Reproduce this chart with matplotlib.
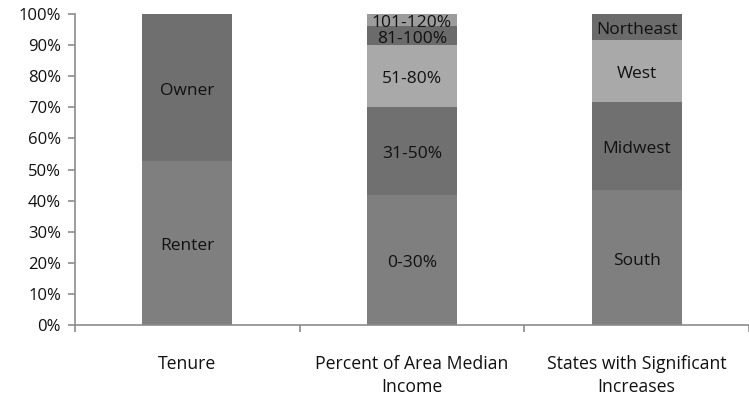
import numpy as np
import matplotlib
matplotlib.use("Agg")
from matplotlib import pyplot as plt

plt.rcParams['font.family'] = ['Open Sans', 'DejaVu Sans']

categories = ["Tenure", "Percent of Area Median\nIncome", "States with Significant\nIncreases"]

# segments per bar, bottom to top (percent)
tenure_labels = ["Renter", "Owner"]
tenure_values = [52.7, 47.3]
ami_labels = ["0-30%", "31-50%", "51-80%", "81-100%", "101-120%"]
ami_values = [41.8, 28.2, 20.0, 6.0, 4.0]
region_labels = ["South", "Midwest", "West", "Northeast"]
region_values = [43.4, 28.3, 19.9, 8.4]

tenure_colors = ["#7f7f7f", "#6f6f6f"]
ami_colors = ["#7f7f7f", "#707070", "#a9a9a9", "#6b6b6b", "#9c9c9c"]
region_colors = ["#7f7f7f", "#707070", "#a9a9a9", "#6b6b6b"]

stacks = [
    (tenure_labels, tenure_values, tenure_colors),
    (ami_labels, ami_values, ami_colors),
    (region_labels, region_values, region_colors),
]

fig = plt.figure(figsize=(7.49, 3.97), dpi=100)
ax = fig.add_axes([0.1, 0.181, 0.9, 0.784])

for i, (labels, values, colors) in enumerate(stacks):
    bottom = 0
    for lab, val, col in zip(labels, values, colors):
        ax.bar(i, val, width=0.4, bottom=bottom, color=col, edgecolor="none")
        ax.annotate(lab, (i, bottom + val / 2), xytext=(0, -3),
                    textcoords="offset pixels", ha="center", va="center",
                    fontsize=12.5, color="#111111")
        bottom += val

ax.set_xlim(-0.5, 2.5)
ax.set_ylim(0, 100)
ax.set_yticks(np.arange(0, 101, 10))
ax.set_yticklabels([f"{v}%" for v in range(0, 101, 10)], fontsize=12)

ax.set_xticks([-0.5, 0.5, 1.5, 2.5])
ax.set_xticklabels([])
for i, c in enumerate(categories):
    ax.text(i, -9.5, c, ha="center", va="top", fontsize=12.7, color="#111111",
            transform=ax.transData, linespacing=1.35)

for s in ["top", "right"]:
    ax.spines[s].set_visible(False)
for s in ["left", "bottom"]:
    ax.spines[s].set_color("#8c8c8c")
    ax.spines[s].set_linewidth(1.2)
ax.tick_params(axis="both", direction="out", length=5, color="#8c8c8c", width=1.2)
ax.tick_params(axis="y", pad=5, labelcolor="#111111")

fig.savefig("out.png", dpi=100)
